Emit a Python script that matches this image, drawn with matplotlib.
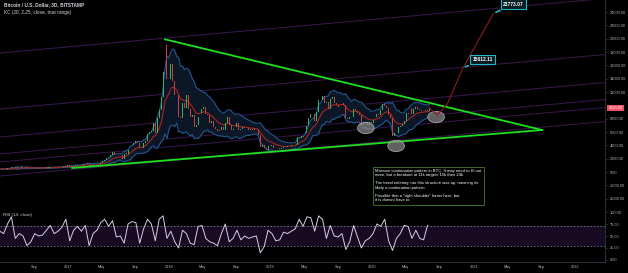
import numpy as np
import pandas as pd
import matplotlib
matplotlib.use('Agg')
import matplotlib.pyplot as plt
import matplotlib.dates as mdates
from matplotlib.patches import Ellipse
from matplotlib.transforms import blended_transform_factory
from matplotlib.ticker import FuncFormatter, FixedLocator

plt.rcParams['font.family'] = ['Liberation Sans', 'DejaVu Sans']

# weekly closes (BTC/USD), starting 2016-05-01
close_2016 = [450, 460, 457, 444, 530, 575, 700, 760, 630, 700, 650, 680, 660, 625, 590, 570, 580, 575,
              610, 608, 610, 602, 612, 618, 640, 655, 700, 710, 700, 730, 730, 765, 770, 790, 890]
close_2017 = [1000, 900, 820, 920, 920, 1020, 1000, 1050, 1180, 1270, 1230, 970, 970, 1090, 1200, 1180, 1240, 1350,
              1580, 1770, 2050, 2200, 2520, 2950, 2550, 2480, 2530, 2500, 1920, 2750, 2750, 3250, 4050, 4080, 4350,
              4600, 4300, 3700, 3650, 4400, 4600, 5700, 6000, 6150, 7400, 5900, 8050, 9300, 11200, 15000, 19100,
              13900, 13900]
close_2018 = [16200, 13600, 11600, 11500, 8200, 8100, 10400, 9600, 11500, 9500, 8200, 8500, 6800, 7000, 8300, 8900,
              9400, 9700, 8700, 8500, 7350, 7700, 6800, 6500, 6100, 6350, 6750, 6350, 7400, 8200, 7000, 6300, 6500,
              6700, 7300, 6250, 6500, 6700, 6600, 6600, 6300, 6420, 6350, 6480, 6400, 5550, 3800, 4100, 3600, 3250,
              3950, 3900]
close_2019 = [4050, 3550, 3550, 3550, 3450, 3650, 3680, 3800, 3830, 3950, 4050, 3990, 4100, 5200, 5100, 5350, 5200,
              5800, 6900, 8100, 8700, 8700, 7700, 8950, 10800, 10800, 11450, 10300, 10500, 9500, 11000, 11300, 10300,
              10100, 9800, 10400, 10300, 10000, 8100, 7900, 8300, 8200, 9500, 9200, 8800, 8500, 7000, 7400, 7500,
              7100, 7500, 7300]
close_2020 = [7750, 8200, 8700, 8600, 9350, 10150, 9900, 9650, 8550, 8050, 5350, 5800, 5900, 6770, 6900, 7150, 7700,
              8900, 8750, 9650, 8750, 9450, 9750, 9400, 9300, 9100, 9100, 9280, 9200, 9620]

rsi_2016 = [60, 55, 75, 90, 45, 55, 50, 30, 38, 55, 50, 52, 62, 72, 55, 60, 68, 85]
rsi_2017 = [40, 62, 70, 60, 72, 30, 55, 62, 78, 85, 70, 82, 48, 50, 35, 75, 80, 78, 35, 65, 85, 75, 40, 85, 92, 45]
rsi_2018 = [60, 38, 25, 62, 55, 35, 32, 70, 72, 45, 38, 35, 30, 55, 75, 38, 45, 62, 42, 50, 45, 48, 50, 15, 28, 62]
rsi_2019 = [55, 40, 42, 58, 55, 60, 65, 85, 70, 90, 88, 60, 92, 85, 45, 72, 50, 48, 55, 22, 38, 72, 48, 25, 40, 45]
rsi_2020 = [55, 75, 70, 85, 40, 20, 45, 55, 72, 70, 45, 62, 45, 42, 72]

# triangle (date, price)
upper_line_dates = ['2017-12-17', '2021-09-05']
upper_line_prices = [19900, 6300]
lower_line_dates = ['2017-01-17', '2021-09-05']
lower_line_prices = [600, 6300]

# purple channel lines, left edge -> right edge
channel_dates = ['2016-05-02', '2022-04-19']
channel_left = [17850, 9450, 5250, 2700, 1500, -600]
channel_right = [26020, 17620, 13420, 10870, 9670, 7570]

# highlighted shoulders
ellipse_dates = ['2019-12-10', '2020-03-28', '2020-08-19']
ellipse_prices = [6600, 3900, 8250]

# projection path and targets
proj_dates = ['2020-07-26', '2020-08-23', '2020-09-28', '2020-11-24', '2021-03-13']
proj_prices = [9620, 8550, 10200, 15612.11, 23773.07]
target_values = [15612.11, 23773.07]
target_dates = ['2020-11-24', '2021-03-13']
target_box_dates = ['2021-02-02', '2021-05-25']
target_box_prices = [16900, 25200]

note = ("Massive continuation pattern in BTC. It may need to fill out\n"
        "more, but a breakout at 11k targets 15k then 24k.\n\n"
        "The trend entering into this structure was up, meaning its\n"
        "likely a continuation pattern.\n\n"
        "Possible that a \"right shoulder\" forms here, but\n"
        "it is doesnt have to")

closes = np.array(close_2016 + close_2017 + close_2018 + close_2019 + close_2020, dtype=float)
dates = pd.date_range('2016-05-01', periods=len(closes), freq='7D')
s = pd.Series(closes, index=dates)

rsi = np.array(rsi_2016 + rsi_2017 + rsi_2018 + rsi_2019 + rsi_2020, dtype=float)
rsi_dates = pd.date_range('2016-05-01', periods=len(rsi), freq='14D')

# Keltner channel
mid = s.ewm(span=10, adjust=False).mean()
atr = s.diff().abs().fillna(0).ewm(span=14, adjust=False).mean()
upper = mid + 2.8 * atr
lower = mid - 2.8 * atr

BG = '#000000'
TXT = '#b2b5be'
GRID = '#2a2e39'

fig = plt.figure(figsize=(6.28, 2.73), dpi=100, facecolor=BG)
ax = fig.add_axes([0, 1 - 210 / 273, 605 / 628, 210 / 273], facecolor=BG)
ax2 = fig.add_axes([0, 11 / 273, 605 / 628, 52 / 273], facecolor=BG, sharex=ax)

x = mdates.date2num(dates)
td = lambda l: mdates.date2num(pd.to_datetime(l))

# channel lines
for a, b in zip(channel_left, channel_right):
    ax.plot(td(channel_dates), [a, b], color='#331647', lw=0.8, zorder=1)

# KC
ax.fill_between(x, lower, upper, color='#0d1a2b', alpha=0.9, zorder=2, lw=0)
ax.plot(x, upper, color='#24578f', lw=0.8, zorder=3)
ax.plot(x, lower, color='#24578f', lw=0.8, zorder=3)
ax.plot(x, mid, color='#a82520', lw=0.8, zorder=3)

# candles
opens = np.r_[closes[0], closes[:-1]]
colors = np.where(closes >= opens, '#3fae5a', '#c8413c')
height = np.where(np.abs(closes - opens) < 60, 60, closes - opens)
ax.bar(x, height, bottom=opens, width=3.5, color=colors, zorder=4, lw=0)

# triangle
ax.plot(td(upper_line_dates), upper_line_prices, color='#1ee01e', lw=1.3, zorder=6)
ax.plot(td(lower_line_dates), lower_line_prices, color='#1ee01e', lw=1.3, zorder=6)

# ellipses
for d, p in zip(ellipse_dates, ellipse_prices):
    ax.add_patch(Ellipse((td(d), p), 60, 1700, fc='#8a8a8a', ec='#cfcfcf', alpha=0.7, lw=0.6, zorder=7))

# projection
ax.plot(td(proj_dates), proj_prices, color='#8e1b1b', lw=0.8, zorder=7)
for v, d, bd, bp in zip(target_values, target_dates, target_box_dates, target_box_prices):
    ax.annotate(f'{v:.2f}', xy=(td(d), v), xytext=(td(bd), bp), color='white', fontsize=3.6,
                fontweight='bold', ha='center', va='center', zorder=9,
                bbox=dict(boxstyle='square,pad=0.45', fc='#0a1d22', ec='#22b8c8', lw=0.8),
                arrowprops=dict(arrowstyle='-', color='#22b8c8', lw=1.2))

# note
ax.text(375 / 605, 1 - 169 / 210, note, transform=ax.transAxes, fontsize=3.0, color='white',
        va='top', ha='left', linespacing=1.05, zorder=9,
        bbox=dict(boxstyle='square,pad=0.6', fc=BG, ec='#3f6b2a', lw=0.7))

# header
ax.text(4 / 605, 1 - 2 / 210, 'Bitcoin / U.S. Dollar, 3D, BITSTAMP', transform=ax.transAxes,
        fontsize=3.4, color='#d1d4dc', fontweight='bold', va='top')
ax.text(4 / 605, 1 - 10 / 210, 'KC (20, 2.25, close, true range)', transform=ax.transAxes,
        fontsize=3.4, color='#d1d4dc', va='top')

# price axis (10000 is covered by the last-price tag)
ax.set_ylim(-5700, 25800)
ax.set_xlim(td('2016-05-02'), td('2022-04-19'))
ax.yaxis.tick_right()
ax.yaxis.set_major_locator(FixedLocator([v for v in range(-4000, 24001, 2000) if v != 10000]))
ax.yaxis.set_major_formatter(FuncFormatter(lambda v, p: f'{v:.2f}'))
ax.tick_params(axis='y', colors=GRID, labelcolor=TXT, labelsize=2.8, length=2, width=0.5, pad=1.5)
ax.tick_params(axis='x', length=0, labelbottom=False)
for sp in ['top', 'left']:
    ax.spines[sp].set_visible(False)
ax.spines['right'].set_color(GRID)
ax.spines['bottom'].set_color(GRID)

last = closes[-1]
tr = blended_transform_factory(ax.transAxes, ax.transData)
ax.text(1.006, last, f'{last:.2f}', transform=tr, fontsize=2.8, color='white', va='center', ha='left',
        zorder=20, clip_on=False, bbox=dict(boxstyle='square,pad=0.35', fc='#ef5368', ec='none'))

# RSI pane
ax2.axhspan(30, 70, color='#170a22', zorder=0, lw=0)
ax2.axhline(70, color='#787b86', lw=0.6, ls=(0, (2, 2)))
ax2.axhline(30, color='#787b86', lw=0.6, ls=(0, (2, 2)))
ax2.plot(mdates.date2num(rsi_dates), rsi, color='#d8cdea', lw=0.7)
ax2.set_ylim(-4.17, 104.17)
ax2.yaxis.tick_right()
ax2.yaxis.set_major_locator(FixedLocator([0, 25, 50, 75, 100]))
ax2.yaxis.set_major_formatter(FuncFormatter(lambda v, p: f'{v:.2f}'))
ax2.tick_params(axis='y', colors=GRID, labelcolor=TXT, labelsize=2.8, length=2, width=0.5, pad=1.5)
ax2.text(3 / 605, 0.9, 'RSI (14, close)', transform=ax2.transAxes, fontsize=3.2, color='#d1d4dc', va='center')
ax2.spines['top'].set_visible(False)
ax2.spines['left'].set_visible(False)
ax2.spines['right'].set_color(GRID)
ax2.spines['bottom'].set_color(GRID)

ticks = pd.date_range('2016-05-01', '2022-01-01', freq='MS')
ticks = [t for t in ticks if t.month in (1, 5, 9)]
ax2.xaxis.set_major_locator(FixedLocator(mdates.date2num(ticks)))


def fmt(v, p):
    d = mdates.num2date(v)
    return str(d.year) if d.month == 1 else d.strftime('%b')


ax2.xaxis.set_major_formatter(FuncFormatter(fmt))
ax2.tick_params(axis='x', length=0, labelsize=2.8, labelcolor=TXT, pad=2.5)

fig.savefig('out.png', dpi=100, facecolor=BG)
